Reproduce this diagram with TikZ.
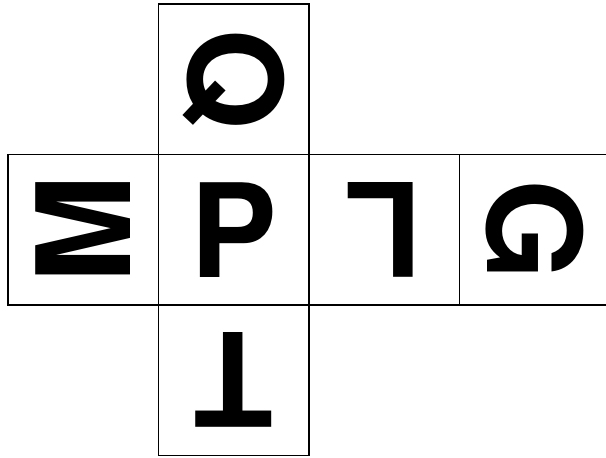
\documentclass[tikz,border=0pt]{standalone}
\usepackage{fontspec}
\setmainfont{TeX Gyre Heros}
\usepackage{tikz}

\begin{document}
\begin{tikzpicture}
\tikzset{cara/.style={draw,line width=1.1pt,minimum size=3.01cm,inner sep=0pt,
  font=\fontsize{74}{74}\selectfont\bfseries}}

\clip (0,0) rectangle (12.12,-9.14);

% Fila central
\node (M) at (1.665,-4.595) [cara,rotate=90] {M};
\node (P) at (4.675,-4.595) [cara] {P};
\node (L) at (7.685,-4.595) [cara,rotate=180] {L};
\node (G) at (10.695,-4.595) [cara,rotate=-90] {G};
% caras arriba y abajo
\node (Q) at (4.675,-1.585) [cara,rotate=-90] {Q};
\node (T) at (4.675,-7.605) [cara,rotate=180] {T};

\end{tikzpicture}
\end{document}
